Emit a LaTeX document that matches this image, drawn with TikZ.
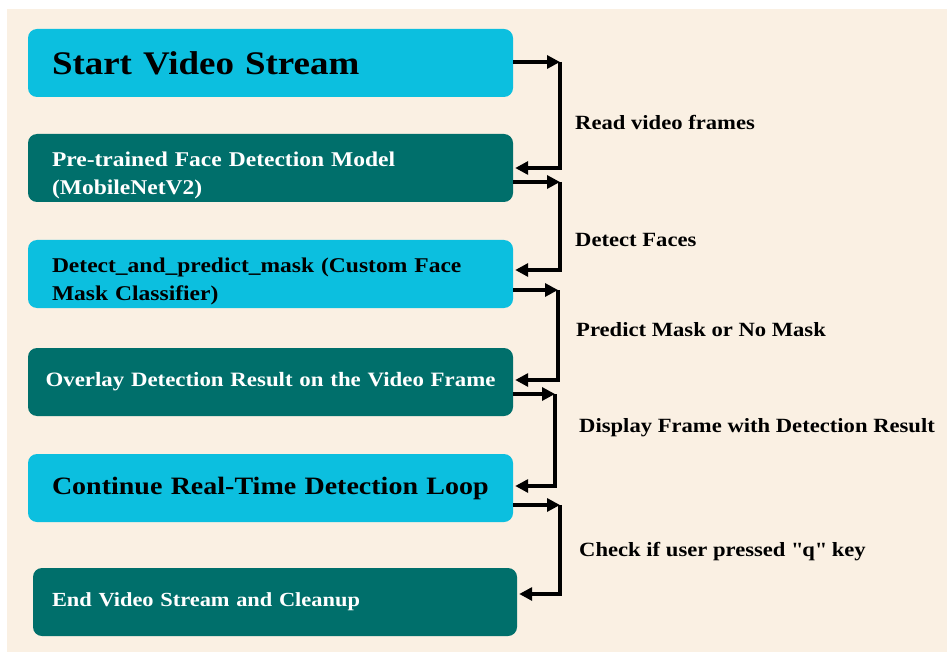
\documentclass[tikz,border=0pt]{standalone}
\usepackage{fontspec}
\setmainfont[FakeStretch=1.12]{Liberation Serif}
\usetikzlibrary{arrows.meta}
\definecolor{bgbeige}{HTML}{FAF0E3}
\definecolor{boxcyan}{HTML}{0CBFDF}
\definecolor{boxteal}{HTML}{006F6B}

\begin{document}
\begin{tikzpicture}[x=1pt,y=-1pt,
  stepbox/.style={rounded corners=9pt, minimum width=485pt, minimum height=68pt, inner xsep=24pt, inner ysep=0pt, text width=437pt, align=left, font=\bfseries\fontsize{21}{28}\selectfont},
  lightbox/.style={stepbox, fill=boxcyan, text=black},
  darkbox/.style={stepbox, fill=boxteal, text=white},
  flowlabel/.style={anchor=west, inner sep=0pt, font=\bfseries\fontsize{20.2}{24}\selectfont},
  link/.style={line width=3.2pt, -{Triangle[length=13pt,width=13pt]}}]
\fill[bgbeige] (7,9) rectangle (947,652);
\useasboundingbox (0,0) rectangle (947,652);
\node[lightbox, font=\bfseries\fontsize{33}{36}\selectfont] (start) at (270.5,63) {Start Video Stream};
\node[darkbox] (model) at (270.5,168) {\rule{0pt}{30pt}Pre-trained Face Detection Model\\(MobileNetV2)};
\node[lightbox] (classify) at (270.5,274) {\rule{0pt}{30pt}Detect\_and\_predict\_mask (Custom Face\\Mask Classifier)};
\node[darkbox, align=center, inner xsep=12.5pt, text width=460pt, font=\bfseries\fontsize{20.4}{24}\selectfont] (overlay) at (270.5,382) {Overlay Detection Result on the Video Frame};
\node[lightbox, font=\bfseries\fontsize{25}{28}\selectfont] (loop) at (270.5,488) {Continue Real-Time Detection Loop};
\node[darkbox, minimum width=484pt, inner xsep=19pt, text width=446pt, font=\bfseries\fontsize{20}{24}\selectfont] (stop) at (275,602) {End Video Stream and Cleanup};
\coordinate (r1) at (560,62);
\coordinate (r2) at (560,182);
\coordinate (r3) at (558,290);
\coordinate (r4) at (555,394);
\coordinate (r5) at (560,505);
\draw[link] (start.east |- r1) -- (r1);
\draw[link, shorten >=2pt] (r1) |- ([yshift=0pt]model.east);
\draw[link] (model.east |- r2) -- (r2);
\draw[link, shorten >=2pt] (r2) |- ([yshift=4pt]classify.east);
\draw[link] (classify.east |- r3) -- (r3);
\draw[link, shorten >=2pt] (r3) |- ([yshift=2pt]overlay.east);
\draw[link] (overlay.east |- r4) -- (r4);
\draw[link, shorten >=2pt] (r4) |- ([yshift=2pt]loop.east);
\draw[link] (loop.east |- r5) -- (r5);
\draw[link, shorten >=2pt] (r5) |- ([yshift=8pt]stop.east);
\node[flowlabel] (l1) at (575,122) {Read video frames};
\node[flowlabel] (l2) at (575,240) {Detect Faces};
\node[flowlabel] (l3) at (576,330) {Predict Mask or No Mask};
\node[flowlabel] (l4) at (579,428) {Display Frame with Detection Result};
\node[flowlabel] (l5) at (579,552) {Check if user pressed \textquotedbl q\textquotedbl{} key};
\end{tikzpicture}
\end{document}
